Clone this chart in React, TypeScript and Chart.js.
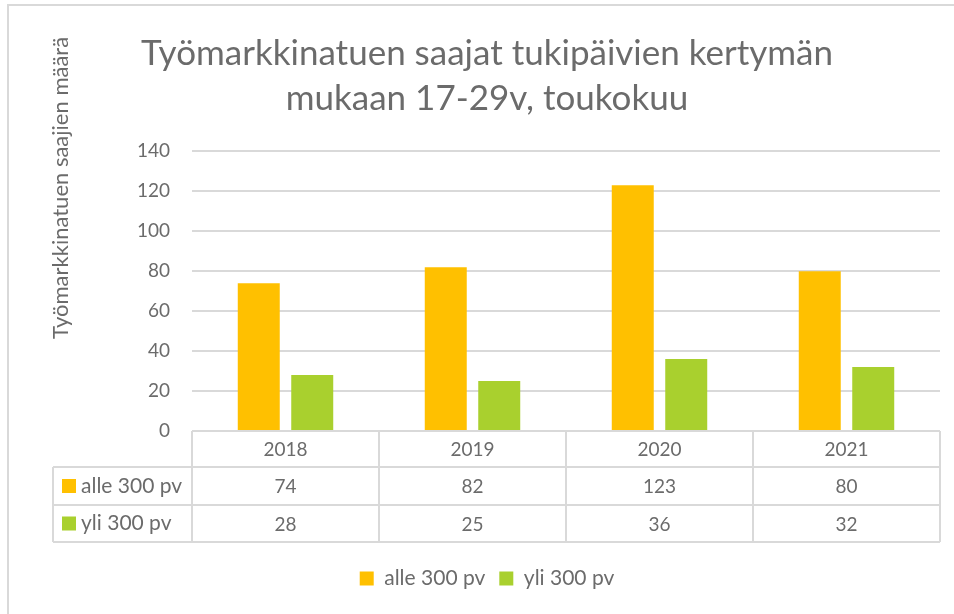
import React, { useEffect, useRef } from "react";
import { Chart, registerables } from "chart.js";

Chart.register(...registerables);

const titleLines = ["Työmarkkinatuen saajat tukipäivien kertymän", "mukaan 17-29v, toukokuu"];
const yAxisTitle = "Työmarkkinatuen saajien määrä";
const years = ["2018", "2019", "2020", "2021"];
const seriesNames = ["alle 300 pv", "yli 300 pv"];
const alle300 = [74, 82, 123, 80];
const yli300 = [28, 25, 36, 32];
const seriesColors = ["#FFC000", "#A9D02E"];

const FONT = "Lato, 'Open Sans', sans-serif";
const TEXT = "#6b6b6b";
const GRID = "#d9d9d9";

const tablePlugin = {
  id: "dataTable",
  afterDraw(chart: any) {
    const { ctx, chartArea } = chart;
    const xs = chart.scales.x;
    const left = chartArea.left;
    const right = chartArea.right;
    const n = years.length;
    const cw = (right - left) / n;
    const top = chartArea.bottom;
    const rows = [top, top + 36, top + 74, top + 111];
    const labelLeft = left - 139;
    ctx.save();
    // outer chart border
    ctx.strokeStyle = GRID;
    ctx.lineWidth = 2;
    ctx.strokeRect(8, 5, chart.width + 10, chart.height + 10);
    // table lines
    ctx.lineWidth = 2;
    ctx.beginPath();
    ctx.moveTo(left, rows[0]);
    ctx.lineTo(right, rows[0]);
    for (let r = 1; r < rows.length; r++) {
      ctx.moveTo(labelLeft, rows[r]);
      ctx.lineTo(right, rows[r]);
    }
    for (let i = 0; i <= n; i++) {
      const x = left + i * cw;
      ctx.moveTo(x, rows[0]);
      ctx.lineTo(x, rows[3]);
    }
    ctx.moveTo(labelLeft, rows[1]);
    ctx.lineTo(labelLeft, rows[3]);
    ctx.stroke();
    // texts
    ctx.fillStyle = TEXT;
    ctx.font = `19px ${FONT}`;
    ctx.textAlign = "center";
    ctx.textBaseline = "middle";
    for (let i = 0; i < n; i++) {
      const cx = xs.getPixelForValue(i);
      ctx.fillText(years[i], cx, (rows[0] + rows[1]) / 2 + 1);
      ctx.fillText(String(alle300[i]), cx, (rows[1] + rows[2]) / 2 + 1);
      ctx.fillText(String(yli300[i]), cx, (rows[2] + rows[3]) / 2 + 1);
    }
    ctx.textAlign = "left";
    ctx.font = `21px ${FONT}`;
    for (let s = 0; s < 2; s++) {
      const cy = (rows[s + 1] + rows[s + 2]) / 2;
      ctx.fillStyle = seriesColors[s];
      ctx.fillRect(labelLeft + 9, cy - 7, 14, 14);
      ctx.fillStyle = TEXT;
      ctx.fillText(seriesNames[s], labelLeft + 28, cy);
    }
    // y axis title
    ctx.save();
    ctx.translate(61, 188);
    ctx.rotate(-Math.PI / 2);
    ctx.textAlign = "center";
    ctx.font = `22px ${FONT}`;
    ctx.fillStyle = TEXT;
    ctx.fillText(yAxisTitle, 0, 0);
    ctx.restore();
    ctx.restore();
  },
};

export default function App() {
  const ref = useRef<HTMLCanvasElement>(null);
  useEffect(() => {
    document.body.style.margin = "0";
    const chart = new Chart(ref.current as HTMLCanvasElement, {
      type: "bar",
      data: {
        labels: years,
        datasets: [
          { label: seriesNames[0], data: alle300, backgroundColor: seriesColors[0], categoryPercentage: 0.572, barPercentage: 0.785 },
          { label: seriesNames[1], data: yli300, backgroundColor: seriesColors[1], categoryPercentage: 0.572, barPercentage: 0.785 },
        ],
      },
      options: {
        animation: false,
        responsive: false,
        layout: { padding: { left: 34, right: 14, top: 1, bottom: 15 } },
        plugins: {
          title: {
            display: true,
            text: titleLines,
            color: TEXT,
            font: { family: FONT, size: 35, weight: "normal", lineHeight: 1.29 },
            padding: { top: 30, bottom: 30 },
          },
          legend: {
            position: "bottom",
            labels: {
              color: TEXT,
              boxWidth: 14,
              boxHeight: 14,
              padding: 14,
              font: { family: FONT, size: 21 },
            },
          },
          tooltip: { enabled: false },
        },
        scales: {
          x: {
            ticks: { display: false },
            grid: { display: false },
            border: { display: false },
            afterFit: (s: any) => { s.height = 123; },
          },
          y: {
            min: 0,
            max: 140,
            ticks: { stepSize: 20, color: TEXT, padding: 22, font: { family: FONT, size: 19 } },
            grid: { color: GRID, lineWidth: 2, drawTicks: false },
            border: { display: false },
            afterFit: (s: any) => { s.width = 158; },
          },
        },
      },
      plugins: [tablePlugin],
    });
    return () => chart.destroy();
  }, []);
  return (
    <div style={{ width: 954, height: 614 }}>
      <canvas ref={ref} width={954} height={614} />
    </div>
  );
}
